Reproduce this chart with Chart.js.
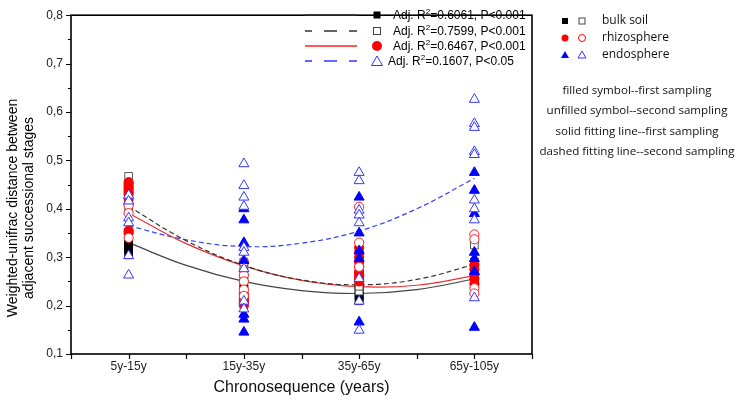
<!DOCTYPE html>
<html><head><meta charset="utf-8">
<script src="https://cdn.jsdelivr.net/npm/chart.js@4.4.1/dist/chart.umd.min.js"></script>
<style>
html,body{margin:0;padding:0;background:#fff;}
#wrap{position:relative;width:737px;height:399px;overflow:hidden;}
#c{position:absolute;left:0;top:0;}
#leg{position:absolute;left:0;top:0;pointer-events:none;}
.t{position:absolute;white-space:nowrap;font-family:'Liberation Sans',Arial,sans-serif;color:#000;}
.fit{font-size:12px;line-height:14px;height:14px;}
.fit .sp{font-size:8px;line-height:0;position:relative;top:-5px;vertical-align:baseline;}
.grp{font-family:'Open Sans','Noto Sans',sans-serif;font-size:12px;line-height:14px;color:#111;}
.note{font-family:'Open Sans','Noto Sans',sans-serif;font-size:11.6px;line-height:14px;color:#111;transform:translateX(-50%);}
#ytitle{position:absolute;left:20px;top:208px;transform:translate(-50%,-50%) rotate(-90deg);text-align:center;font-family:'Liberation Sans',Arial,sans-serif;font-size:14px;line-height:16px;white-space:nowrap;color:#000;}
</style></head><body>
<div id="wrap">
<canvas id="c" width="737" height="399"></canvas>
<svg id="leg" width="737" height="399" xmlns="http://www.w3.org/2000/svg">
  <line x1="305" y1="15" x2="357" y2="15" stroke="#333" stroke-width="1.3"/>
  <line x1="305" y1="31" x2="357" y2="31" stroke="#333" stroke-width="1.3" stroke-dasharray="13 12" stroke-dashoffset="6"/>
  <line x1="305" y1="46" x2="357" y2="46" stroke="#f22" stroke-width="1.3"/>
  <line x1="305" y1="61" x2="357" y2="61" stroke="#33f" stroke-width="1.3" stroke-dasharray="13 12" stroke-dashoffset="6"/>
  <rect x="373.5" y="11.5" width="7" height="7" fill="#000"/>
  <rect x="373.5" y="27.5" width="7" height="7" fill="#fff" stroke="#444" stroke-width="1"/>
  <circle cx="377" cy="46" r="5" fill="#f00"/>
  <polygon points="377,56 382.5,65.5 371.5,65.5" fill="#fff" stroke="#33f" stroke-width="1"/>
  <rect x="562" y="18" width="6" height="6" fill="#000"/>
  <rect x="579" y="18" width="6" height="6" fill="#fff" stroke="#444" stroke-width="1"/>
  <circle cx="565" cy="38" r="3.5" fill="#f00"/>
  <circle cx="582" cy="38" r="3.5" fill="#fff" stroke="#f00" stroke-width="1"/>
  <polygon points="565,51 569,58 561,58" fill="#00f"/>
  <polygon points="582,51 586,58 578,58" fill="#fff" stroke="#33f" stroke-width="1"/>
</svg>
<div id="ytitle">Weighted-unifrac distance between<br>adjacent successional stages</div>
<div id="texts"></div>
</div>
<script>
// ---- data ----
const categories = ['5y-15y', '15y-35y', '35y-65y', '65y-105y'];
const yTickLabels = ['0,1', '0,2', '0,3', '0,4', '0,5', '0,6', '0,7', '0,8'];
const xTitle = 'Chronosequence (years)';

// per category: values
const bulkFirst = [
  [0.305, 0.315, 0.32, 0.325, 0.33, 0.335, 0.34, 0.345],
  [0.22, 0.235, 0.245, 0.255],
  [0.21, 0.215, 0.22, 0.225, 0.23, 0.235, 0.24, 0.243],
  [0.24, 0.25, 0.26, 0.27]
];
const bulkSecond = [
  [0.467, 0.45, 0.43, 0.40],
  [0.27, 0.28, 0.29],
  [0.23, 0.24, 0.25, 0.26],
  [0.325, 0.29, 0.27, 0.26]
];
const rhizoFirst = [
  [0.455, 0.45, 0.445, 0.44, 0.435, 0.43, 0.42, 0.41, 0.355, 0.35],
  [0.223, 0.215, 0.21, 0.205, 0.2],
  [0.32, 0.31, 0.30, 0.29, 0.28, 0.27, 0.265, 0.26, 0.255, 0.25],
  [0.284, 0.275, 0.265, 0.255, 0.245]
];
const rhizoSecond = [
  [0.407, 0.391, 0.34],
  [0.29, 0.263, 0.25, 0.233, 0.22],
  [0.404, 0.33, 0.28],
  [0.347, 0.337, 0.236, 0.225]
];
const endoFirst = [
  [],
  [0.40, 0.377, 0.33, 0.293, 0.182, 0.172, 0.145],
  [0.424, 0.35, 0.313, 0.297, 0.166],
  [0.475, 0.438, 0.39, 0.31, 0.297, 0.27, 0.155]
];
const endoSecond = [
  [0.428, 0.416, 0.381, 0.371, 0.303, 0.263],
  [0.493, 0.448, 0.424, 0.405, 0.32, 0.31, 0.276, 0.209, 0.193],
  [0.475, 0.458, 0.397, 0.387, 0.371, 0.256, 0.209, 0.149],
  [0.626, 0.576, 0.568, 0.518, 0.512, 0.418, 0.40, 0.377, 0.216]
];

// fitted curves read at category positions and half-way points
const fitX = [1, 1.5, 2, 2.5, 3, 3.5, 4];
const fitBulkFirst  = [0.330, 0.283, 0.250, 0.231, 0.225, 0.233, 0.255];
const fitBulkSecond = [0.405, 0.334, 0.283, 0.253, 0.243, 0.254, 0.285];
const fitRhizoFirst = [0.391, 0.328, 0.282, 0.252, 0.239, 0.242, 0.262];
const fitEndoSecond = [0.365, 0.336, 0.322, 0.329, 0.354, 0.400, 0.463];

const fitLabels = ['0.6061, P<0.001', '0.7599, P<0.001', '0.6467, P<0.001', '0.1607, P<0.05'];
const groupLabels = ['bulk soil', 'rhizosphere', 'endosphere'];
const noteLabels = ['filled symbol--first sampling', 'unfilled symbol--second sampling',
                    'solid fitting line--first sampling', 'dashed fitting line--second sampling'];

// ---- html texts ----
const texts = document.getElementById('texts');
const fitRowY = [15, 31, 46, 61];
const fitTextX = [393, 393, 393, 388];
fitLabels.forEach((s, i) => {
  const d = document.createElement('div');
  d.className = 't fit';
  d.style.left = fitTextX[i] + 'px';
  d.style.top = (fitRowY[i] - 7) + 'px';
  d.innerHTML = 'Adj. R<span class="sp">2</span>=' + s.replace('<', '&lt;');
  texts.appendChild(d);
});
const grpY = [21, 38, 55];
groupLabels.forEach((s, i) => {
  const d = document.createElement('div');
  d.className = 't grp';
  d.style.left = '602px';
  d.style.top = (grpY[i] - 8) + 'px';
  d.textContent = s;
  texts.appendChild(d);
});
const noteY = [90, 110, 131, 151];
noteLabels.forEach((s, i) => {
  const d = document.createElement('div');
  d.className = 't note';
  d.style.left = '637px';
  d.style.top = (noteY[i] - 7) + 'px';
  d.textContent = s;
  texts.appendChild(d);
});

// ---- chart ----
const pts = arr => arr.flatMap((vals, i) => vals.map(v => ({ x: i + 1, y: v })));
const fitPts = arr => arr.map((v, i) => ({ x: fitX[i], y: v }));
const isMajor = v => Math.abs(v * 10 - Math.round(v * 10)) < 1e-6;

const framePlugin = {
  id: 'frame',
  afterDraw(chart) {
    const { ctx, chartArea: a, scales: { x, y } } = chart;
    ctx.save();
    ctx.strokeStyle = '#000';
    ctx.lineWidth = 1.2;
    ctx.beginPath();
    y.ticks.forEach(t => {
      const p = Math.round(y.getPixelForValue(t.value)) + 0.5;
      ctx.moveTo(a.left - (isMajor(t.value) ? 5 : 3), p);
      ctx.lineTo(a.left, p);
    });
    x.ticks.forEach(t => {
      const p = Math.round(x.getPixelForValue(t.value)) + 0.5;
      ctx.moveTo(p, a.bottom);
      ctx.lineTo(p, a.bottom + 5);
    });
    ctx.stroke();
    ctx.lineWidth = 1.6;
    ctx.strokeRect(a.left, a.top, a.right - a.left, a.bottom - a.top);
    ctx.restore();
  }
};

Chart.defaults.font.family = "'Liberation Sans', Arial, sans-serif";
Chart.defaults.color = '#222';

new Chart(document.getElementById('c'), {
  type: 'scatter',
  data: {
    datasets: [
      { data: pts(endoSecond), pointStyle: 'triangle', pointRadius: 5.8, backgroundColor: '#fff', borderColor: '#3838ff', borderWidth: 1, order: 1 },
      { data: pts(endoFirst), pointStyle: 'triangle', pointRadius: 5.8, backgroundColor: '#0000ff', borderColor: '#0000ff', borderWidth: 1, order: 2 },
      { data: pts(rhizoSecond), pointStyle: 'circle', pointRadius: 4.6, backgroundColor: '#fff', borderColor: '#ff2020', borderWidth: 1, order: 3 },
      { data: pts(rhizoFirst), pointStyle: 'circle', pointRadius: 4.6, backgroundColor: '#ff0000', borderColor: '#ff0000', borderWidth: 1, order: 4 },
      { data: pts(bulkSecond), pointStyle: 'rect', pointRadius: 5.4, backgroundColor: '#fff', borderColor: '#555', borderWidth: 1, order: 5 },
      { data: pts(bulkFirst), pointStyle: 'rect', pointRadius: 5.4, backgroundColor: '#000', borderColor: '#000', borderWidth: 1, order: 6 },
      { type: 'line', data: fitPts(fitBulkFirst), borderColor: '#444', borderWidth: 1.2, pointRadius: 0, tension: 0.4, fill: false, order: 10 },
      { type: 'line', data: fitPts(fitBulkSecond), borderColor: '#333', borderWidth: 1.2, borderDash: [5, 3], pointRadius: 0, tension: 0.4, fill: false, order: 11 },
      { type: 'line', data: fitPts(fitRhizoFirst), borderColor: '#f03030', borderWidth: 1.2, pointRadius: 0, tension: 0.4, fill: false, order: 12 },
      { type: 'line', data: fitPts(fitEndoSecond), borderColor: '#3344ff', borderWidth: 1.2, borderDash: [5, 3], pointRadius: 0, tension: 0.4, fill: false, order: 13 }
    ]
  },
  options: {
    responsive: false,
    devicePixelRatio: 1,
    animation: false,
    layout: { padding: { top: 7, right: 205, left: 0, bottom: 0 } },
    plugins: { legend: { display: false }, tooltip: { enabled: false } },
    scales: {
      x: {
        type: 'linear', min: 0.5, max: 4.5,
        afterFit: s => { s.height = 45; },
        grid: { display: false, drawTicks: false },
        border: { display: false },
        ticks: { stepSize: 0.5, autoSkip: false, maxRotation: 0, padding: 5, font: { size: 12 }, color: '#222',
          callback: v => (Number.isInteger(v) && v >= 1 && v <= 4) ? categories[v - 1] : '' },
        title: { display: true, text: xTitle, font: { size: 16 }, color: '#111', padding: { top: 0, bottom: 2 } }
      },
      y: {
        min: 0.1, max: 0.8,
        afterFit: s => { s.width = 71; },
        grid: { display: false, drawTicks: false },
        border: { display: false },
        ticks: { stepSize: 0.05, autoSkip: false, padding: 8, font: { size: 12 }, color: '#222',
          callback: v => isMajor(v) ? yTickLabels[Math.round(v * 10) - 1] : '' }
      }
    }
  },
  plugins: [framePlugin]
});
</script>
</body></html>
